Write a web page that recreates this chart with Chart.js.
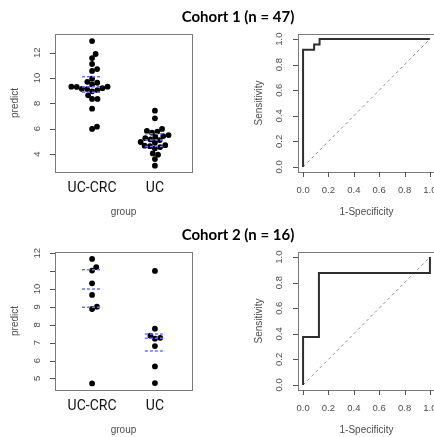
<!DOCTYPE html>
<html>
<head>
<meta charset="utf-8">
<script src="https://cdn.jsdelivr.net/npm/chart.js@4.4.0/dist/chart.umd.min.js"></script>
<style>
html, body { margin: 0; padding: 0; background: #fff; overflow: hidden; width: 434px; height: 437px; }
.panel { position: absolute; }
.panel canvas { display: block; }
.ttl { position: absolute; left: 138px; width: 200px; text-align: center; font: bold 15px Lato, sans-serif; color: #000; line-height: 18px; z-index: 2; }
</style>
</head>
<body>
<div class="ttl" style="top:7px">Cohort 1 (n = 47)</div>
<div class="ttl" style="top:225px">Cohort 2 (n = 16)</div>
<div class="panel" style="left:0;top:20px"><canvas id="c1_swarm" width="217" height="198"></canvas></div>
<div class="panel" style="left:217px;top:20px"><canvas id="c1_roc" width="222" height="198"></canvas></div>
<div class="panel" style="left:0;top:238px"><canvas id="c2_swarm" width="217" height="198"></canvas></div>
<div class="panel" style="left:217px;top:238px"><canvas id="c2_roc" width="222" height="198"></canvas></div>
<script>
// groups on the x axis of the swarm plots
const groups = ['UC-CRC', 'UC'];

// cohort 1 predicted values
const c1CrcPredict = [12.92, 11.9, 11.58, 11.11, 10.71, 10.56, 9.95, 9.7, 9.63, 9.5, 9.32, 9.32,
                      9.3, 9.2, 9.15, 9.13, 9.05, 8.95, 8.64, 8.35, 8.35, 7.58, 6.16, 5.98];
const c1UcPredict = [7.42, 6.82, 5.98, 5.82, 5.77, 5.69, 5.5, 5.42, 5.35, 5.25, 5.15, 5.1,
                     4.95, 4.9, 4.7, 4.66, 4.62, 4.55, 4.45, 4.05, 3.95, 3.6, 3.08];
// cohort 2 predicted values
const c2CrcPredict = [11.68, 11.22, 11.03, 10.32, 9.67, 9.01, 8.88, 4.72];
const c2UcPredict = [11.01, 7.78, 7.39, 7.27, 7.22, 6.81, 5.67, 4.74];

const c1YTicks = [4, 6, 8, 10, 12];
const c1YLabels = ['4', '6', '8', '10', '12'];
const c2YTicks = [5, 6, 7, 8, 9, 10, 11, 12];
const c2YLabels = ['5', '6', '7', '8', '9', '10', '', '12'];

// ROC curves (1-specificity, sensitivity)
const roc1Fpr = [0, 0, 0.087, 0.087, 0.13, 0.13, 1];
const roc1Tpr = [0, 0.917, 0.917, 0.958, 0.958, 1, 1];
const roc2Fpr = [0, 0, 0.125, 0.125, 1, 1];
const roc2Tpr = [0, 0.375, 0.375, 0.875, 0.875, 1];
const rocTicks = [0, 0.2, 0.4, 0.6, 0.8, 1.0];

Chart.defaults.font.family = "'Liberation Sans', Arial, sans-serif";
Chart.defaults.animation = false;

const tickGray = '#4d4d4d';
const catFont = "'Liberation Sans Narrow', Roboto, sans-serif";

// label offset is taken by an invisible tick mark, the visible marks come from rFrame
function offsetGrid(len) {
  return {display: true, drawOnChartArea: false, drawTicks: true, tickLength: len, tickColor: 'rgba(0,0,0,0)'};
}

// box round the plot area + R style tick marks
const rFrame = {
  id: 'rFrame',
  beforeDatasetsDraw(chart, args, opts) {
    const {ctx, chartArea: a, scales} = chart;
    ctx.save();
    ctx.lineWidth = 1;
    ctx.strokeStyle = '#7a7a7a';
    ctx.strokeRect(Math.round(a.left) + 0.5, Math.round(a.top) + 0.5,
                   Math.round(a.right - a.left), Math.round(a.bottom - a.top));
    ctx.strokeStyle = '#555';
    ctx.beginPath();
    if (opts.xTicks) {
      scales.x.ticks.forEach(t => {
        const px = Math.round(scales.x.getPixelForValue(t.value)) + 0.5;
        ctx.moveTo(px, Math.round(a.bottom)); ctx.lineTo(px, Math.round(a.bottom) + 5);
      });
    }
    if (opts.yTicks) {
      scales.y.ticks.forEach(t => {
        const py = Math.round(scales.y.getPixelForValue(t.value)) + 0.5;
        ctx.moveTo(Math.round(a.left), py); ctx.lineTo(Math.round(a.left) - 5, py);
      });
    }
    ctx.stroke();
    ctx.restore();
  }
};

function quantile(vals, p) {
  const s = [...vals].sort((a, b) => a - b);
  const h = (s.length - 1) * p;
  const lo = Math.floor(h);
  const hi = Math.min(lo + 1, s.length - 1);
  return s[lo] + (h - lo) * (s[hi] - s[lo]);
}

// beeswarm "swarm" placement, ascending priority, in pixel space
function swarmX(vals, center, xs, ys, d) {
  const order = vals.map((v, i) => i).sort((a, b) => vals[a] - vals[b]);
  const pxPerUnit = xs.getPixelForValue(1) - xs.getPixelForValue(0);
  const placed = [];
  const out = new Array(vals.length);
  order.forEach(i => {
    const py = ys.getPixelForValue(vals[i]);
    const cands = [0];
    placed.forEach(p => {
      const dy = py - p.py;
      if (Math.abs(dy) < d) {
        const dx = Math.sqrt(d * d - dy * dy);
        cands.push(p.px + dx, p.px - dx);
      }
    });
    cands.sort((a, b) => Math.abs(a) - Math.abs(b));
    let best = 0;
    for (const c of cands) {
      if (placed.every(p => (c - p.px) ** 2 + (py - p.py) ** 2 >= d * d - 0.01)) { best = c; break; }
    }
    placed.push({px: best, py: py});
    out[i] = center + best / pxPerUnit;
  });
  return out;
}

function swarmChart(id, groupVals, yMin, yMax, yTicks, yLabels) {
  const datasets = [];
  groupVals.forEach((vals, g) => {
    datasets.push({
      data: vals.map(v => ({x: g + 1, y: v})),
      backgroundColor: '#000', borderColor: '#000',
      pointRadius: 2.9, pointBorderWidth: 0, order: 2
    });
  });
  groupVals.forEach((vals, g) => {
    [0.25, 0.5, 0.75].forEach(p => {
      const q = quantile(vals, p);
      datasets.push({
        data: [{x: g + 1 - 0.16, y: q}, {x: g + 1 + 0.16, y: q}],
        showLine: true, borderColor: '#7070ff', borderWidth: 1.5, borderDash: [3, 2],
        pointRadius: 0, order: 1
      });
    });
  });
  const chart = new Chart(document.getElementById(id).getContext('2d'), {
    type: 'scatter',
    data: {datasets: datasets},
    options: {
      responsive: false,
      layout: {padding: {top: 14, right: 25, left: 0, bottom: 0}},
      plugins: {legend: {display: false}, tooltip: {enabled: false}, rFrame: {xTicks: false, yTicks: true}},
      scales: {
        x: {
          type: 'linear', min: 0.41, max: 2.59,
          afterBuildTicks: s => { s.ticks = [1, 2].map(v => ({value: v})); },
          afterFit: s => { s.height = 46; },
          ticks: {callback: v => groups[v - 1], font: {size: 14, family: catFont}, color: '#111',
                  padding: 0, maxRotation: 0, autoSkip: false},
          grid: offsetGrid(7.6),
          border: {display: false},
          title: {display: true, text: 'group', font: {size: 10}, color: tickGray, padding: {top: 0, bottom: 0}}
        },
        y: {
          type: 'linear', min: yMin, max: yMax,
          afterBuildTicks: s => { s.ticks = yTicks.map(v => ({value: v})); },
          afterFit: s => { s.width = 55; },
          ticks: {callback: (v, i) => yLabels[i], minRotation: 90, maxRotation: 90, crossAlign: 'center',
                  padding: 0, font: {size: 9.5}, color: tickGray, autoSkip: false},
          grid: offsetGrid(12.5),
          border: {display: false},
          title: {display: true, text: 'predict', font: {size: 10}, color: tickGray, padding: {top: 9, bottom: 0}}
        }
      }
    },
    plugins: [rFrame]
  });
  groupVals.forEach((vals, g) => {
    const xs = swarmX(vals, g + 1, chart.scales.x, chart.scales.y, 5.4);
    chart.data.datasets[g].data = vals.map((v, i) => ({x: xs[i], y: v}));
  });
  chart.update('none');
  return chart;
}

function rocChart(id, fpr, tpr) {
  return new Chart(document.getElementById(id).getContext('2d'), {
    type: 'scatter',
    data: {
      datasets: [
        {data: fpr.map((f, i) => ({x: f, y: tpr[i]})), showLine: true, borderColor: '#2e2e2e',
         borderWidth: 2, pointRadius: 0, order: 1},
        {data: [{x: 0, y: 0}, {x: 1, y: 1}], showLine: true, borderColor: '#909090',
         borderWidth: 1, borderDash: [3, 3], pointRadius: 0, order: 2}
      ]
    },
    options: {
      responsive: false,
      layout: {padding: {top: 14, right: 4, left: 0, bottom: 0}},
      plugins: {legend: {display: false}, tooltip: {enabled: false}, rFrame: {xTicks: true, yTicks: true}},
      scales: {
        x: {
          type: 'linear', min: -0.04, max: 1.04,
          afterBuildTicks: s => { s.ticks = rocTicks.map(v => ({value: v})); },
          afterFit: s => { s.height = 46; },
          ticks: {callback: v => v.toFixed(1), font: {size: 9.5}, color: tickGray, padding: 0,
                  maxRotation: 0, autoSkip: false},
          grid: offsetGrid(12.3),
          border: {display: false},
          title: {display: true, text: '1-Specificity', font: {size: 10}, color: tickGray, padding: {top: 0, bottom: 0}}
        },
        y: {
          type: 'linear', min: -0.04, max: 1.04,
          afterBuildTicks: s => { s.ticks = rocTicks.map(v => ({value: v})); },
          afterFit: s => { s.width = 81; },
          ticks: {callback: v => v.toFixed(1), minRotation: 90, maxRotation: 90, crossAlign: 'center',
                  padding: 0, font: {size: 9.5}, color: tickGray, autoSkip: false},
          grid: offsetGrid(12.5),
          border: {display: false},
          title: {display: true, text: 'Sensitivity', font: {size: 10}, color: tickGray, padding: {top: 36, bottom: 0}}
        }
      }
    },
    plugins: [rFrame]
  });
}

swarmChart('c1_swarm', [c1CrcPredict, c1UcPredict], 2.58, 13.48, c1YTicks, c1YLabels);
rocChart('c1_roc', roc1Fpr, roc1Tpr);
swarmChart('c2_swarm', [c2CrcPredict, c2UcPredict], 4.35, 12.07, c2YTicks, c2YLabels);
rocChart('c2_roc', roc2Fpr, roc2Tpr);
</script>
</body>
</html>
